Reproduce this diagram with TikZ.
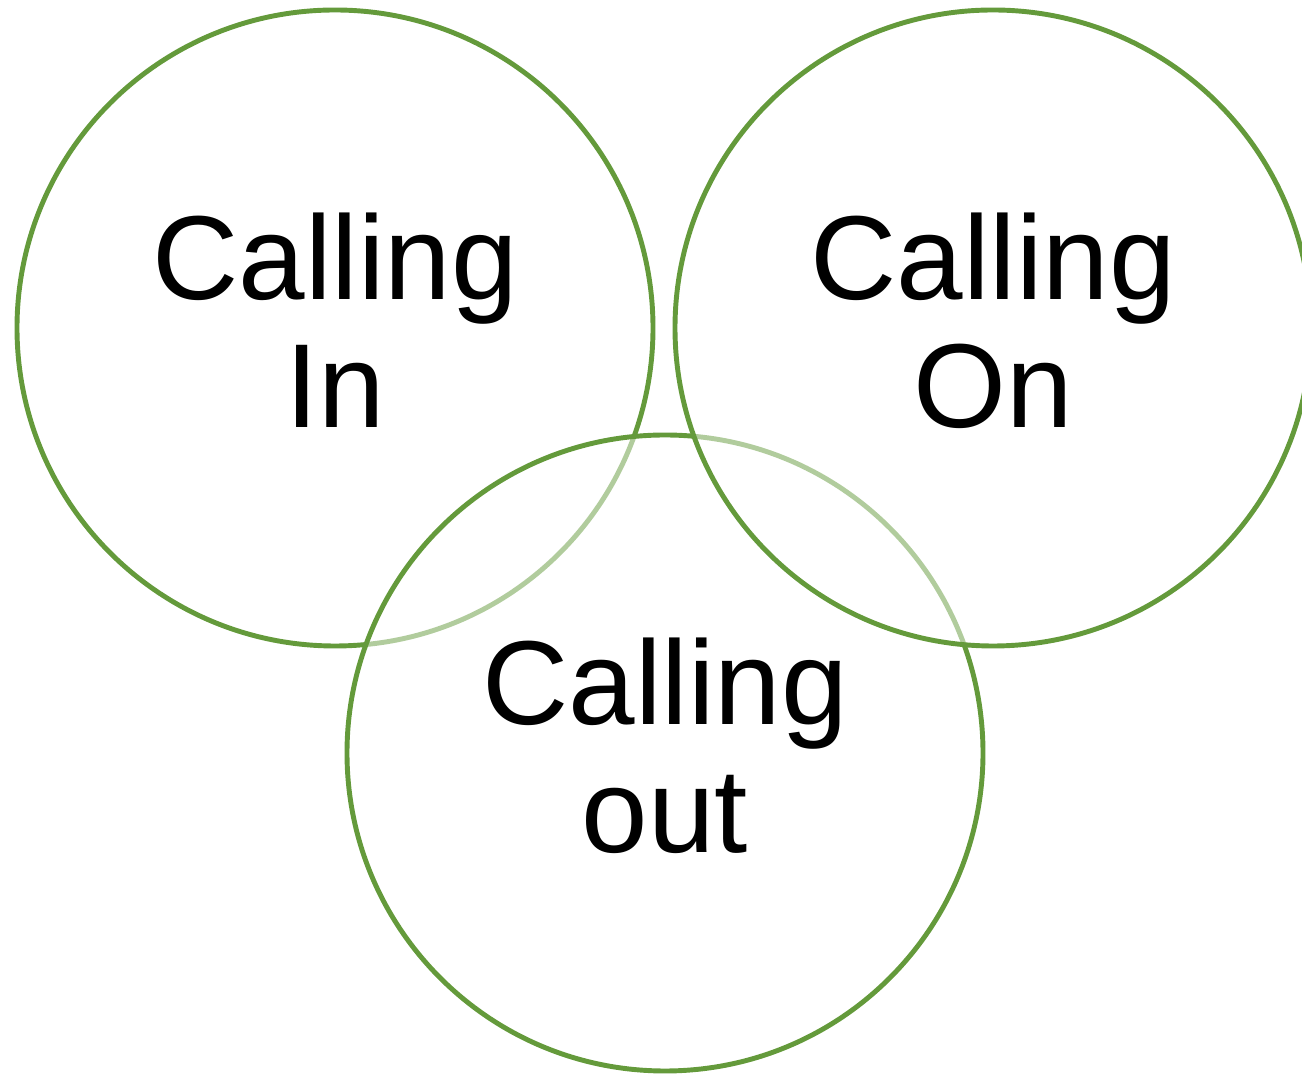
\documentclass[tikz,border=0pt]{standalone}
\usepackage{fontspec}
\setmainfont{Liberation Sans}
\definecolor{ringgreen}{RGB}{100,154,59}
\tikzset{
  ring/.style={circle,draw=ringgreen,line width=1.4pt,fill=white,fill opacity=0.5,
    text opacity=1,minimum size=6.36cm,inner sep=0pt,align=center,text depth=0.15cm,
    font=\fontsize{34}{36.5}\selectfont}
}
\begin{document}
\begin{tikzpicture}[scale=1]
    \useasboundingbox (0,0) rectangle (13.02,10.74);
    % circles, drawn left, bottom, right
    \node[ring] (callin)  at (3.35,7.46) {Calling\\In};
    \node[ring] (callout) at (6.65,3.21) {Calling\\out};
    \node[ring] (callon)  at (9.93,7.46) {Calling\\On};
\end{tikzpicture}
\end{document}
